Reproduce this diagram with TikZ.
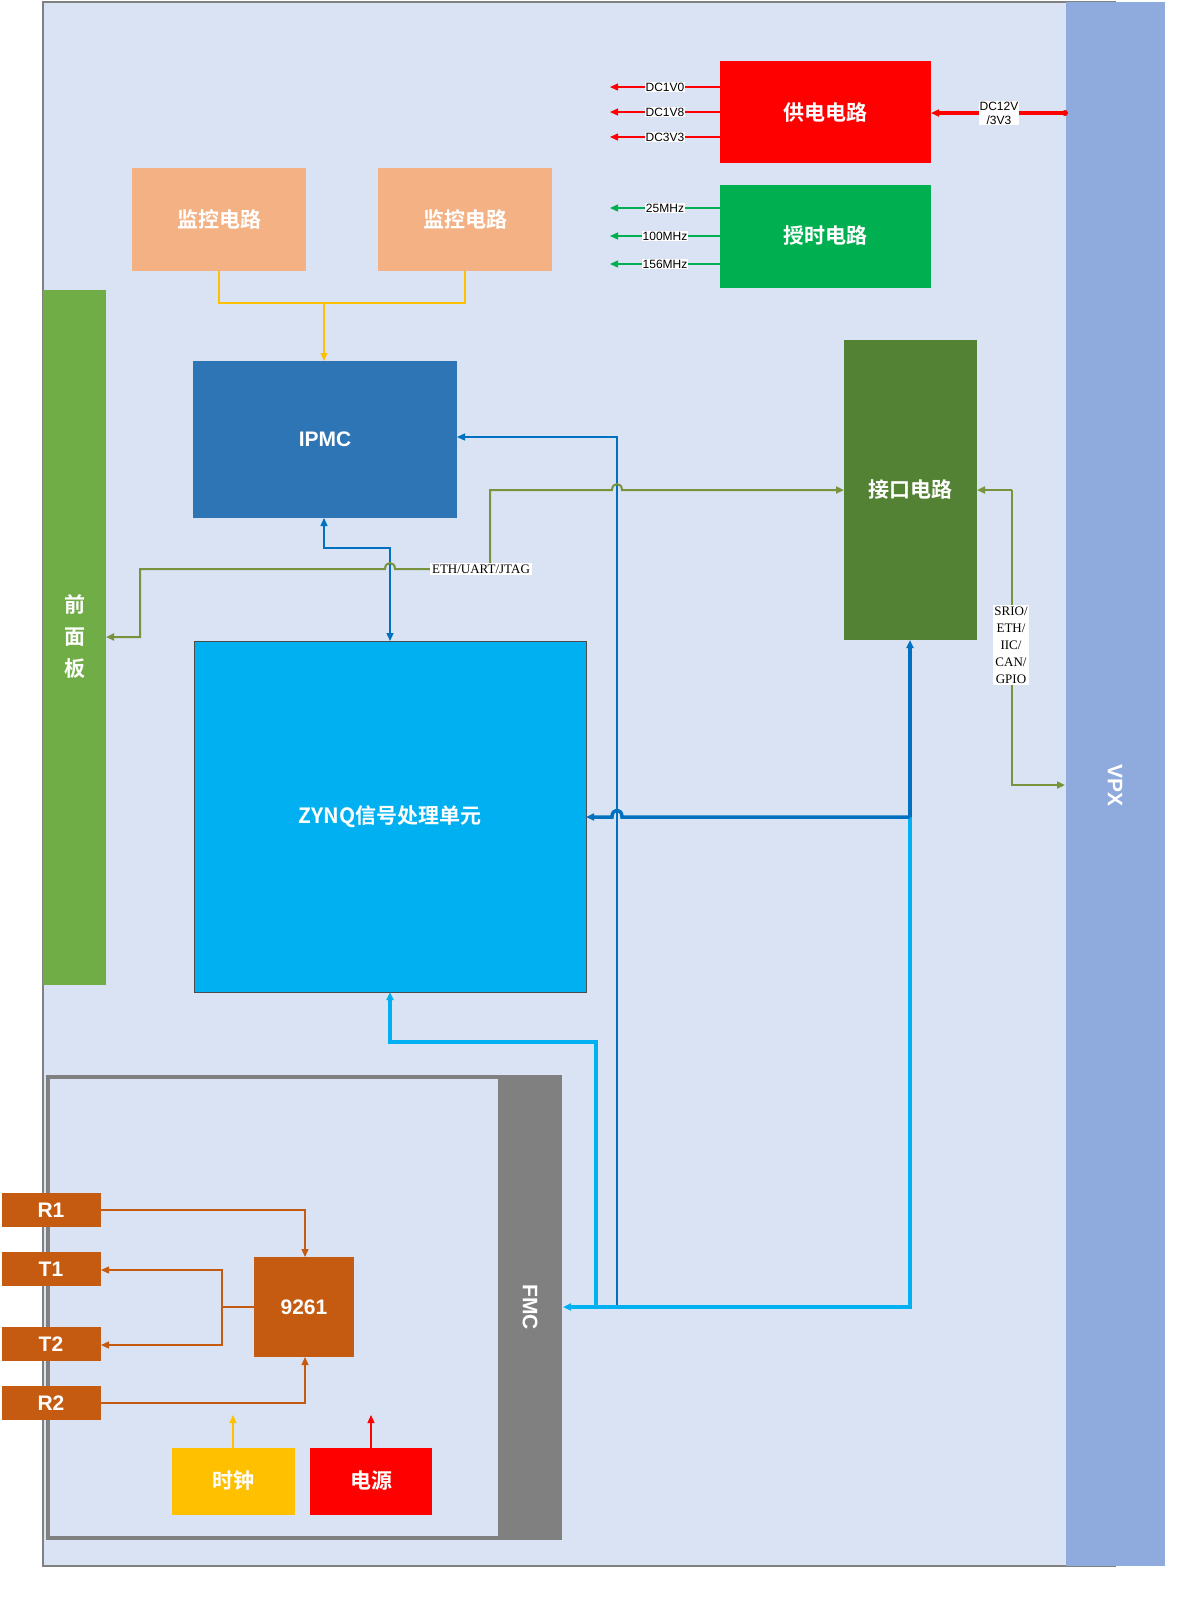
\documentclass[tikz,border=0pt]{standalone}
\usepackage{fontspec}
\setmainfont{Liberation Sans}
\newfontfamily\cjk{Noto Sans CJK SC Bold}
\newfontfamily\ser{Liberation Serif}
\usetikzlibrary{arrows.meta}
\definecolor{bg}{HTML}{DAE3F3}
\definecolor{vpx}{HTML}{8FAADC}
\definecolor{rd}{HTML}{FF0000}
\definecolor{gn}{HTML}{00B050}
\definecolor{org}{HTML}{F4B183}
\definecolor{ipmc}{HTML}{2E75B6}
\definecolor{fp}{HTML}{70AD47}
\definecolor{jk}{HTML}{548235}
\definecolor{zy}{HTML}{00B0F0}
\definecolor{rs}{HTML}{C55A11}
\definecolor{ye}{HTML}{FFC000}
\definecolor{db}{HTML}{0070C0}
\definecolor{ol}{HTML}{77933C}
\tikzset{
 box/.style={draw=none,inner sep=0pt,font=\cjk\fontsize{10.5}{12}\selectfont,text=white},
 bx/.style={box,font=\bfseries\fontsize{10.5}{12}\selectfont},
 lab/.style={fill=white,inner sep=0.5pt,font=\fontsize{6}{7}\selectfont},
 slab/.style={fill=white,inner sep=0.8pt,font=\ser\fontsize{6.5}{8.5}\selectfont,align=center},
 arr/.style={-{Triangle[length=4pt,width=3.5pt]}},
 tn/.style={line width=0.65pt},
 tk/.style={line width=1.75pt},
}
\begin{document}
\begin{tikzpicture}[x=0.5pt,y=-0.5pt]
\useasboundingbox (0,0) rectangle (1200,1614);
\fill[white] (0,0) rectangle (1200,1614);
\draw[fill=bg,draw=gray,line width=1.25pt] (43,2) rectangle (1115,1566);
\fill[vpx] (1066,2) rectangle (1165,1566);
\node[bx,rotate=-90] (vpx) at (1115,785) {VPX};
% power
\fill[rd] (720,61) rectangle (931,163);
\node[box] (pwr) at (825.5,112) {供电电路};
\foreach \y/\t in {87/DC1V0,112/DC1V8,137/DC3V3}{
 \draw[rd,tn,arr] (720,\y) -- (610,\y);
 \node[lab] at (665,\y) {\t};}
\draw[rd,tk,arr] (1065,113) -- (931,113);
\node[lab,align=center] at (999,113) {DC12V\\/3V3};
\fill[rd] (1065,113) circle (1.5pt);
% clock
\fill[gn] (720,185) rectangle (931,288);
\node[box] (clk) at (825.5,236) {授时电路};
\foreach \y/\t in {208/25MHz,236/100MHz,264/156MHz}{
 \draw[gn,tn,arr] (720,\y) -- (610,\y);
 \node[lab] at (665,\y) {\t};}
% monitors
\fill[org] (132,168) rectangle (306,271);
\node[box] (m1) at (219,219.5) {监控电路};
\fill[org] (378,168) rectangle (552,271);
\node[box] (m2) at (465,219.5) {监控电路};
% IPMC
\fill[ipmc] (193,361) rectangle (457,518);
\node[bx] (ipmc) at (325,439) {IPMC};
\draw[ye,tn] (219,271) -- (219,303) -- (465,303) -- (465,271);
\draw[ye,tn,arr] (324,303) -- (324,361);
% front panel
\fill[fp] (43,290) rectangle (106,985);
\node[box,align=center,font=\cjk\fontsize{10.5}{16}\selectfont] (fp) at (75,637) {前\\面\\板};
% interface
\fill[jk] (844,340) rectangle (977,640);
\node[box] (jk) at (910,490) {接口电路};
% ZYNQ
\draw[fill=zy,draw=black!70,line width=0.3pt] (194,641) rectangle (586,992);
\node[box] (zy) at (390,817) {ZYNQ信号处理单元};
% FMC
\draw[fill=bg,draw=gray,line width=2pt] (48,1077) rectangle (560,1538);
\fill[gray] (498,1075) rectangle (562,1540);
\node[bx,rotate=-90] (fmc) at (530,1307) {FMC};
% R/T blocks
\foreach \n/\y/\t in {r1/1210/R1,t1/1269/T1,t2/1344/T2,r2/1403/R2}{
 \fill[rs] (2,\y-17) rectangle (101,\y+17);
 \node[bx] (\n) at (51,\y) {\t};}
\fill[rs] (254,1257) rectangle (354,1357);
\node[bx] (ad) at (304,1307) {9261};
\fill[ye] (172,1448) rectangle (295,1515);
\node[box] (sz) at (233.5,1481) {时钟};
\fill[rd] (310,1448) rectangle (432,1515);
\node[box] (dy) at (371,1481) {电源};
\draw[ye,tn,arr] (233,1448) -- (233,1415);
\draw[rd,tn,arr] (371,1448) -- (371,1415);
\begin{scope}[rs,tn]
\draw[arr] (101,1210) -- (305,1210) -- (305,1257);
\draw[arr] (101,1403) -- (305,1403) -- (305,1357);
\draw (254,1307) -- (222,1307);
\draw[arr] (222,1307) -- (222,1270) -- (101,1270);
\draw[arr] (222,1307) -- (222,1345) -- (101,1345);
\end{scope}
% IPMC-ZYNQ
\draw[db,tn,{Triangle[length=4pt,width=3.5pt]}-{Triangle[length=4pt,width=3.5pt]}] (324,518) -- (324,548) -- (390,548) -- (390,641);
% thin blue IPMC - FMC
\draw[db,tn,arr] (617,1305) -- (617,437) -- (457,437);
% green ETH/UART/JTAG
\draw[ol,line width=1pt,arr] (490,569) -- (395,569) .. controls (395,561) and (385,561) .. (385,569) -- (140,569) -- (140,637) -- (106,637);
\draw[ol,line width=1pt,arr] (490,569) -- (490,490) -- (612,490) .. controls (612,482) and (622,482) .. (622,490) -- (844,490);
\node[slab] at (481,569) {ETH/UART/JTAG};
% interface - VPX
\draw[ol,line width=1pt,arr] (1012,490) -- (977,490);
\draw[ol,line width=1pt,arr] (1012,490) -- (1012,785) -- (1065,785);
\node[slab] at (1011,645) {SRIO/\\ETH/\\IIC/\\CAN/\\GPIO};
% thick light blue
\draw[zy,tk,arr] (910,817) -- (910,1307) -- (563,1307);
\draw[zy,tk,arr] (596,1307) -- (596,1042) -- (390,1042) -- (390,992);
% thick dark blue
\draw[db,tk,arr] (910,817) -- (910,640);
\draw[db,tk,arr] (910,817) -- (622,817) .. controls (622,808) and (612,808) .. (612,817) -- (586,817);
\end{tikzpicture}
\end{document}
